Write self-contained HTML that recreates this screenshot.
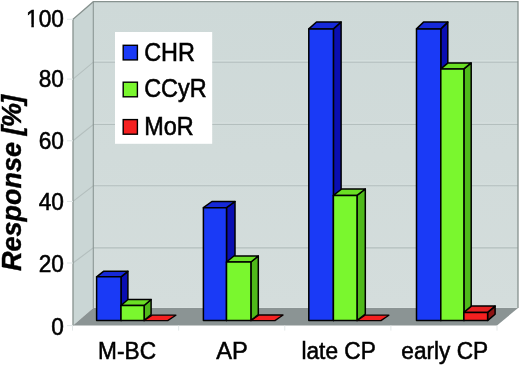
<!DOCTYPE html>
<html><head><meta charset="utf-8"><title>Response chart</title>
<style>
html,body{margin:0;padding:0;background:#fff;}
body{width:520px;height:366px;overflow:hidden;}
svg{display:block;}
.t{font-family:"Liberation Sans",sans-serif;font-size:24px;fill:#000;stroke:#000;stroke-width:0.55px;}
.yt{font-family:"Liberation Sans",sans-serif;font-size:27px;font-weight:bold;font-style:italic;fill:#000;stroke:#000;stroke-width:0.4px;}
</style></head><body>
<svg width="520" height="366" viewBox="0 0 520 366">
<defs><linearGradient id="bw" x1="0" y1="0" x2="0" y2="1"><stop offset="0" stop-color="#ced9d8"/><stop offset="1" stop-color="#d4dddc"/></linearGradient></defs>
<rect width="520" height="366" fill="#fff"/>
<rect x="93.3" y="1.7" width="424.7" height="306.2" fill="url(#bw)"/>
<polygon points="73.0,325.6 93.3,307.9 93.3,1.7 73.0,19.3" fill="#cad6d5"/>
<polygon points="73.0,325.6 497.0,325.6 518.0,307.9 93.3,307.9" fill="#8b9494"/>
<path d="M73.0,263.0 L93.3,247.9 L518.0,247.9" fill="none" stroke="#b4bfbe" stroke-width="1.1"/>
<path d="M93.3,246.3 L518.0,246.3" fill="none" stroke="#d6dfde" stroke-width="1"/>
<path d="M73.0,201.4 L93.3,185.7 L518.0,185.7" fill="none" stroke="#b4bfbe" stroke-width="1.1"/>
<path d="M93.3,184.1 L518.0,184.1" fill="none" stroke="#d6dfde" stroke-width="1"/>
<path d="M73.0,140.8 L93.3,124.5 L518.0,124.5" fill="none" stroke="#b4bfbe" stroke-width="1.1"/>
<path d="M93.3,122.9 L518.0,122.9" fill="none" stroke="#d6dfde" stroke-width="1"/>
<path d="M73.0,79.1 L93.3,62.2 L518.0,62.2" fill="none" stroke="#b4bfbe" stroke-width="1.1"/>
<path d="M93.3,60.6 L518.0,60.6" fill="none" stroke="#d6dfde" stroke-width="1"/>
<path d="M73.0,325.6 L73.0,19.3 L93.3,1.7 L518.0,1.7 L518.0,307.9" fill="none" stroke="#87928f" stroke-width="1.3"/>
<path d="M93.3,1.7 L93.3,307.9" fill="none" stroke="#8a9593" stroke-width="1.1"/>
<path d="M67.0,325.6 L73.0,325.6" stroke="#dfe6e6" stroke-width="1"/>
<path d="M67.0,263.0 L73.0,263.0" stroke="#dfe6e6" stroke-width="1"/>
<path d="M67.0,201.4 L73.0,201.4" stroke="#dfe6e6" stroke-width="1"/>
<path d="M67.0,140.8 L73.0,140.8" stroke="#dfe6e6" stroke-width="1"/>
<path d="M67.0,79.1 L73.0,79.1" stroke="#dfe6e6" stroke-width="1"/>
<path d="M67.0,19.3 L73.0,19.3" stroke="#dfe6e6" stroke-width="1"/>
<path d="M72.5,325.6 L72.5,330.6" stroke="#e3e8e8" stroke-width="1"/>
<path d="M178.625,325.6 L178.625,330.6" stroke="#e3e8e8" stroke-width="1"/>
<path d="M284.75,325.6 L284.75,330.6" stroke="#e3e8e8" stroke-width="1"/>
<path d="M390.875,325.6 L390.875,330.6" stroke="#e3e8e8" stroke-width="1"/>
<path d="M497.0,325.6 L497.0,330.6" stroke="#e3e8e8" stroke-width="1"/>
<polygon points="121.0,320.6 127.9,315.1 127.9,271.3 121.0,276.8" fill="#0a0eb2" stroke="#000" stroke-width="1.5" stroke-linejoin="round"/>
<polygon points="96.6,276.8 121.0,276.8 127.9,271.3 103.5,271.3" fill="#1629d8" stroke="#000" stroke-width="1.5" stroke-linejoin="round"/>
<rect x="96.6" y="276.8" width="24.400000000000006" height="43.80000000000001" fill="#1a3af6" stroke="#000" stroke-width="1.5" stroke-linejoin="round"/>
<polygon points="144.1,320.6 151.1,314.6 151.1,299.5 144.1,305.5" fill="#4fb91a" stroke="#000" stroke-width="1.5" stroke-linejoin="round"/>
<polygon points="121.0,305.5 144.1,305.5 151.1,299.5 128.0,299.5" fill="#6adf24" stroke="#000" stroke-width="1.5" stroke-linejoin="round"/>
<rect x="121.0" y="305.5" width="23.099999999999994" height="15.100000000000023" fill="#7af72e" stroke="#000" stroke-width="1.5" stroke-linejoin="round"/>
<polygon points="143.9,320.6 167.7,320.6 175.89999999999998,315.20000000000005 152.1,315.20000000000005" fill="#f52020" stroke="#0a0000" stroke-width="1.3" stroke-linejoin="round"/>
<polygon points="226.5,320.6 235.0,314.40000000000003 235.0,201.5 226.5,207.7" fill="#0a0eb2" stroke="#000" stroke-width="1.5" stroke-linejoin="round"/>
<polygon points="203.4,207.7 226.5,207.7 235.0,201.5 211.9,201.5" fill="#1629d8" stroke="#000" stroke-width="1.5" stroke-linejoin="round"/>
<rect x="203.4" y="207.7" width="23.099999999999994" height="112.90000000000003" fill="#1a3af6" stroke="#000" stroke-width="1.5" stroke-linejoin="round"/>
<polygon points="250.9,320.6 258.3,314.6 258.3,256.0 250.9,262.0" fill="#4fb91a" stroke="#000" stroke-width="1.5" stroke-linejoin="round"/>
<polygon points="226.5,262.0 250.9,262.0 258.3,256.0 233.9,256.0" fill="#6adf24" stroke="#000" stroke-width="1.5" stroke-linejoin="round"/>
<rect x="226.5" y="262.0" width="24.400000000000006" height="58.60000000000002" fill="#7af72e" stroke="#000" stroke-width="1.5" stroke-linejoin="round"/>
<polygon points="250.9,320.6 274.9,320.6 283.09999999999997,315.0 259.1,315.0" fill="#f52020" stroke="#0a0000" stroke-width="1.3" stroke-linejoin="round"/>
<polygon points="333.4,320.6 341.09999999999997,313.70000000000005 341.09999999999997,22.0 333.4,28.9" fill="#0a0eb2" stroke="#000" stroke-width="1.5" stroke-linejoin="round"/>
<polygon points="308.8,28.9 333.4,28.9 341.09999999999997,22.0 316.5,22.0" fill="#1629d8" stroke="#000" stroke-width="1.5" stroke-linejoin="round"/>
<rect x="308.8" y="28.9" width="24.599999999999966" height="291.70000000000005" fill="#1a3af6" stroke="#000" stroke-width="1.5" stroke-linejoin="round"/>
<polygon points="357.0,320.6 365.3,314.20000000000005 365.3,189.0 357.0,195.4" fill="#4fb91a" stroke="#000" stroke-width="1.5" stroke-linejoin="round"/>
<polygon points="333.4,195.4 357.0,195.4 365.3,189.0 341.7,189.0" fill="#6adf24" stroke="#000" stroke-width="1.5" stroke-linejoin="round"/>
<rect x="333.4" y="195.4" width="23.600000000000023" height="125.20000000000002" fill="#7af72e" stroke="#000" stroke-width="1.5" stroke-linejoin="round"/>
<polygon points="357.0,320.6 380.9,320.6 388.9,315.20000000000005 365.0,315.20000000000005" fill="#f52020" stroke="#0a0000" stroke-width="1.3" stroke-linejoin="round"/>
<polygon points="440.8,320.6 447.8,313.8 447.8,22.099999999999998 440.8,28.9" fill="#0a0eb2" stroke="#000" stroke-width="1.5" stroke-linejoin="round"/>
<polygon points="416.5,28.9 440.8,28.9 447.8,22.099999999999998 423.5,22.099999999999998" fill="#1629d8" stroke="#000" stroke-width="1.5" stroke-linejoin="round"/>
<rect x="416.5" y="28.9" width="24.30000000000001" height="291.70000000000005" fill="#1a3af6" stroke="#000" stroke-width="1.5" stroke-linejoin="round"/>
<polygon points="463.9,320.6 471.2,314.6 471.2,62.900000000000006 463.9,68.9" fill="#4fb91a" stroke="#000" stroke-width="1.5" stroke-linejoin="round"/>
<polygon points="440.8,68.9 463.9,68.9 471.2,62.900000000000006 448.1,62.900000000000006" fill="#6adf24" stroke="#000" stroke-width="1.5" stroke-linejoin="round"/>
<rect x="440.8" y="68.9" width="23.099999999999966" height="251.70000000000002" fill="#7af72e" stroke="#000" stroke-width="1.5" stroke-linejoin="round"/>
<polygon points="487.6,320.6 495.1,314.3 495.1,306.09999999999997 487.6,312.4" fill="#8e1414" stroke="#000" stroke-width="1.5" stroke-linejoin="round"/>
<polygon points="463.9,312.4 487.6,312.4 495.1,306.09999999999997 471.4,306.09999999999997" fill="#e42222" stroke="#000" stroke-width="1.5" stroke-linejoin="round"/>
<rect x="463.9" y="312.4" width="23.700000000000045" height="8.200000000000045" fill="#f52020" stroke="#000" stroke-width="1.5" stroke-linejoin="round"/>
<rect x="115" y="32" width="97.2" height="111.8" fill="#fff"/>
<rect x="123.2" y="45.300000000000004" width="14.2" height="14.6" fill="#1a3af6" stroke="#000" stroke-width="1.4"/>
<text x="0" y="0" class="t" transform="translate(144.2 60.7) scale(0.976 1.07)">CHR</text>
<rect x="123.2" y="82.2" width="14.2" height="14.6" fill="#7af72e" stroke="#000" stroke-width="1.4"/>
<text x="0" y="0" class="t" transform="translate(144.2 96.9) scale(0.976 1.07)">CCyR</text>
<rect x="123.2" y="119.6" width="14.2" height="14.6" fill="#f52020" stroke="#000" stroke-width="1.4"/>
<text x="0" y="0" class="t" transform="translate(144.2 135.0) scale(0.976 1.07)">MoR</text>
<text x="0" y="0" class="t" text-anchor="end" transform="translate(63.9 334.50) scale(0.945 1.03)">0</text>
<text x="0" y="0" class="t" text-anchor="end" transform="translate(63.9 271.60) scale(0.945 1.03)">20</text>
<text x="0" y="0" class="t" text-anchor="end" transform="translate(63.9 210.00) scale(0.945 1.03)">40</text>
<text x="0" y="0" class="t" text-anchor="end" transform="translate(63.9 149.40) scale(0.945 1.03)">60</text>
<text x="0" y="0" class="t" text-anchor="end" transform="translate(63.9 86.70) scale(0.945 1.03)">80</text>
<text x="0" y="0" class="t" text-anchor="end" transform="translate(63.9 26.80) scale(0.945 1.03)">100</text>
<rect x="26" y="24.5" width="5.35" height="4" fill="#fff"/><rect x="33.84" y="24.5" width="5" height="4" fill="#fff"/>
<text x="0" y="0" class="t" text-anchor="middle" transform="translate(127.06 359.2) scale(0.945 1.02)">M-BC</text>
<text x="0" y="0" class="t" text-anchor="middle" transform="translate(232.09 359.2) scale(0.985 1.02)">AP</text>
<text x="0" y="0" class="t" text-anchor="middle" transform="translate(338.61 359.2) scale(0.945 1.02)">late CP</text>
<text x="0" y="0" class="t" text-anchor="middle" transform="translate(444.74 359.2) scale(0.945 1.02)">early CP</text>
<text class="yt" text-anchor="middle" word-spacing="-0.8" transform="translate(21.4 183.4) rotate(-90)">Response <tspan letter-spacing="-0.9">[%]</tspan></text>
</svg>
</body></html>
